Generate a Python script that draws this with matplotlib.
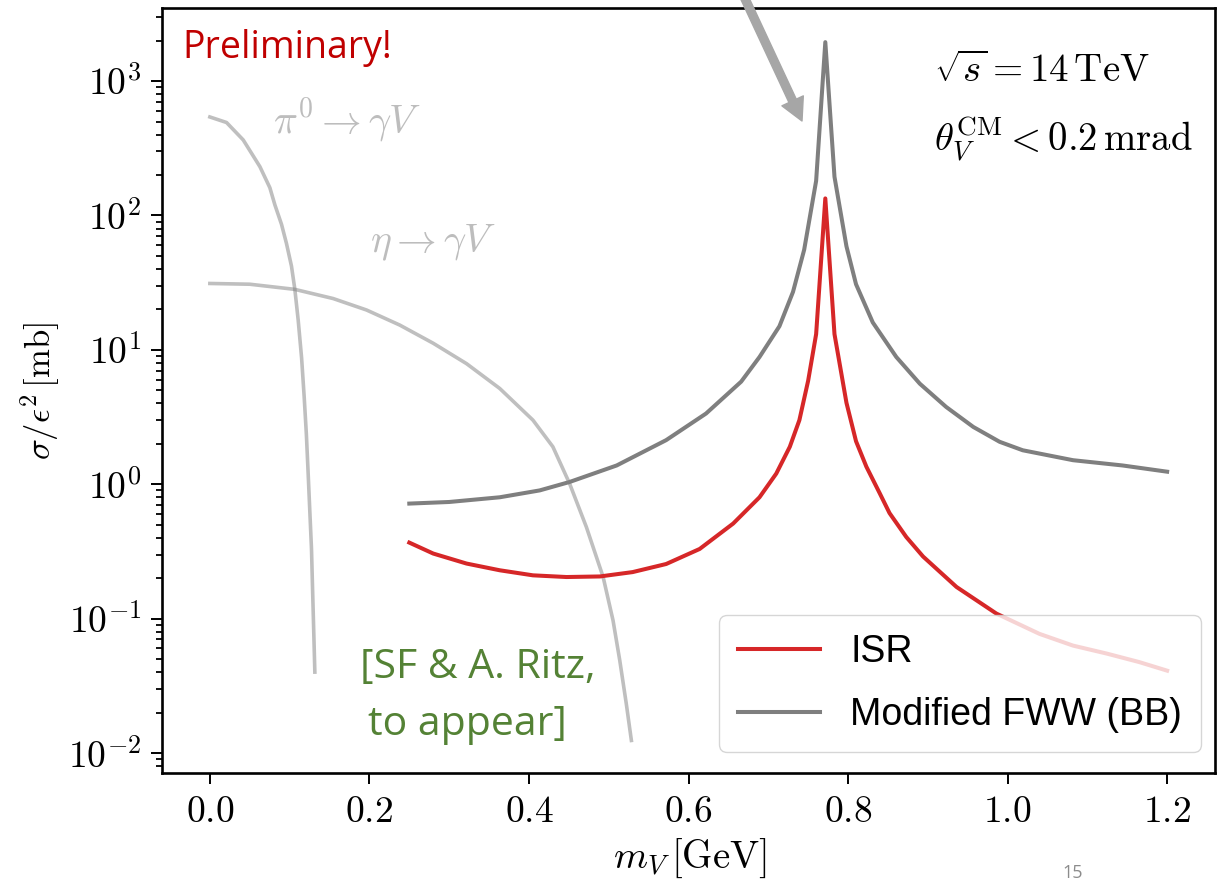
import numpy as np
import matplotlib
matplotlib.use('Agg')
import matplotlib.pyplot as plt
from matplotlib.ticker import FuncFormatter, LogLocator

plt.rcParams['mathtext.fontset'] = 'cm'

# values (m_V in GeV, sigma/eps^2 in mb)
pi0_m = [0.0, 0.0209, 0.0418, 0.0627, 0.0752, 0.0815, 0.0898, 0.096, 0.1023, 0.1065,
         0.1107, 0.115, 0.1182, 0.121, 0.1232, 0.1253, 0.1274, 0.1287, 0.1303, 0.1316]
pi0_sigma = [541, 492, 365, 231, 161, 120, 86, 62, 42, 28.3,
             16.7, 8.7, 4.5, 2.34, 1.21, 0.63, 0.33, 0.17, 0.077, 0.040]

eta_m = [0.0, 0.05, 0.1065, 0.1545, 0.1964, 0.238, 0.28, 0.3217, 0.3634, 0.405,
         0.43, 0.451, 0.472, 0.493, 0.5054, 0.5138, 0.522, 0.5284]
eta_sigma = [31.2, 30.8, 28.2, 24.1, 19.8, 15.3, 11.2, 7.9, 5.16, 3.0,
             1.9, 1.01, 0.48, 0.204, 0.097, 0.049, 0.0233, 0.0124]

isr_m = [0.25, 0.28, 0.3217, 0.3634, 0.405, 0.447, 0.489, 0.53, 0.572, 0.614,
         0.656, 0.689, 0.71, 0.727, 0.739, 0.75, 0.760, 0.7715, 0.783, 0.798,
         0.81, 0.823, 0.84, 0.852, 0.873, 0.894, 0.936, 0.986, 1.04, 1.082,
         1.124, 1.165, 1.20]
isr_sigma = [0.368, 0.305, 0.257, 0.229, 0.21, 0.204, 0.206, 0.222, 0.255, 0.33,
             0.51, 0.80, 1.20, 1.9, 3.0, 5.9, 13.1, 134, 13.1, 4.04,
             2.09, 1.35, 0.85, 0.61, 0.405, 0.29, 0.172, 0.109, 0.077, 0.063,
             0.055, 0.0475, 0.041]

fww_m = [0.25, 0.30, 0.3634, 0.4135, 0.451, 0.51, 0.572, 0.622, 0.666, 0.689,
         0.714, 0.731, 0.745, 0.760, 0.7715, 0.783, 0.798, 0.81, 0.831, 0.8605,
         0.89, 0.923, 0.957, 0.99, 1.019, 1.082, 1.144, 1.20]
fww_sigma = [0.718, 0.738, 0.80, 0.90, 1.04, 1.38, 2.13, 3.36, 5.8, 8.85,
             15.0, 27, 55.6, 181, 1950, 194, 59, 30.8, 16, 8.85,
             5.6, 3.76, 2.67, 2.07, 1.79, 1.51, 1.38, 1.24]

x_ticks = [0.0, 0.2, 0.4, 0.6, 0.8, 1.0, 1.2]

fig = plt.figure(figsize=(12.23, 8.84), dpi=100)
ax = fig.add_axes([162/1223, 1 - 773/884, 1053/1223, 765/884])

ax.plot(pi0_m, pi0_sigma, color='gray', alpha=0.5, lw=2.6)
ax.plot(eta_m, eta_sigma, color='gray', alpha=0.5, lw=2.6)
ax.plot(isr_m, isr_sigma, color='#d62728', lw=2.9, label='ISR')
ax.plot(fww_m, fww_sigma, color='#7f7f7f', lw=2.9, label='Modified FWW (BB)')

ax.set_yscale('log')
ax.set_xlim(-0.06, 1.26)
ax.set_ylim(0.0071, 3500)
ax.set_xticks(x_ticks)
ax.xaxis.set_major_formatter(FuncFormatter(lambda v, p: f'${v:.1f}$'))
ax.yaxis.set_major_locator(LogLocator(base=10, numticks=20))
ax.yaxis.set_minor_locator(LogLocator(base=10, subs=np.arange(2, 10), numticks=20))
ax.yaxis.set_major_formatter(FuncFormatter(lambda v, p: f'$10^{{{int(round(np.log10(v)))}}}$'))
ax.tick_params(which='major', length=8, width=1.4, labelsize=27, pad=7)
ax.tick_params(which='minor', length=4.5, width=1.3)
for s in ax.spines.values():
    s.set_linewidth(1.9)

leg = ax.legend(loc='lower right', bbox_to_anchor=(0.9867, 0.0275), borderaxespad=0,
                prop={'family': 'Liberation Sans', 'size': 27}, handlelength=2.2,
                labelspacing=0.72, borderpad=0.5, framealpha=0.8, fancybox=True)

# annotations
ax.text(0.019, 0.9346, 'Preliminary!', transform=ax.transAxes, color='#c00000',
        family='Open Sans', fontsize=27, va='baseline')
ax.text(0.733, 0.903, r'$\sqrt{s} = 14\,\mathrm{TeV}$', transform=ax.transAxes,
        fontsize=28, va='baseline')
ax.text(0.733, 0.812, r'$\theta_V^{\mathrm{CM}} < 0.2\,\mathrm{mrad}$', transform=ax.transAxes,
        fontsize=28, va='baseline')
ax.text(0.1054, 0.8366, r'$\pi^0 \to \gamma V$', transform=ax.transAxes,
        color='#bdbdbd', fontsize=28.5, va='baseline')
ax.text(0.1975, 0.68, r'$\eta \to \gamma V$', transform=ax.transAxes,
        color='#bdbdbd', fontsize=28.5, va='baseline')
ax.text((360 - 162)/1053, (773 - 678)/765, '[SF & A. Ritz,', transform=ax.transAxes,
        color='#548235', family='Open Sans', fontsize=29.5, va='baseline')
ax.text((368 - 162)/1053, (773 - 735)/765, 'to appear]', transform=ax.transAxes,
        color='#548235', family='Open Sans', fontsize=29.5, va='baseline')

fig.text(40/1223, 1 - 391/884, r'$\sigma/\epsilon^2\,[\mathrm{mb}]$', rotation=90,
         ha='center', va='center', fontsize=25)
fig.text(690/1223, 1 - 858/884, r'$m_V\,[\mathrm{GeV}]$', ha='center', va='center', fontsize=28)
fig.text(1073/1223, 2/884, '15', ha='center', va='bottom', color='#8c8c8c',
         family='Open Sans', fontsize=13)

# slide arrow pointing at the peak
ax.annotate('', xy=(802, 884 - 121), xytext=(740, 884 + 12), xycoords='figure pixels',
            textcoords='figure pixels', annotation_clip=False,
            arrowprops=dict(width=5.8, headwidth=17, headlength=16, color='#a6a6a6', shrink=0))

fig.savefig('out.png', dpi=100)
